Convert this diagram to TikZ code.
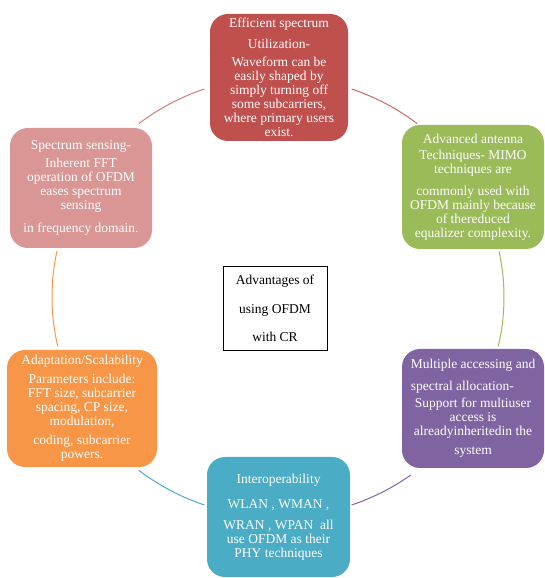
\documentclass[tikz,border=0pt]{standalone}
\usepackage{fontspec}
\setmainfont{Liberation Serif}
\usepackage{xcolor}
\usepackage{tikz}
\usetikzlibrary{calc}

\definecolor{effred}{HTML}{C0504D}
\definecolor{antgreen}{HTML}{9BBB59}
\definecolor{accpurple}{HTML}{8064A2}
\definecolor{intteal}{HTML}{4BACC6}
\definecolor{adaorange}{HTML}{F79646}
\definecolor{senpink}{HTML}{D99694}

\begin{document}
\begin{tikzpicture}[x=1pt,y=1pt,
		box/.style 2 args={rounded corners=18pt,minimum width=#1pt,minimum height=#2pt,inner sep=0pt,align=center,text=white,font=\fontsize{13.5}{14}\selectfont},
		ring/.style={line width=1pt}]
		\useasboundingbox (0,0) rectangle (544,578);
		\coordinate (c) at (278,281);
		% the six advantages round the cycle
		\node[box={138}{127},fill=effred] (eff) at (279,500.5) {Efficient spectrum\\[7pt]Utilization-\\[4pt]Waveform can be\\easily shaped by\\simply turning off\\some subcarriers,\\where primary users\\exist.};
		\node[box={142}{124},fill=antgreen] (ant) at (473,391) {Advanced antenna\\[2pt]Techniques- MIMO\\techniques are\\[8pt]commonly used with\\OFDM mainly because\\of thereduced\\equalizer complexity.};
		\node[box={142}{119},fill=accpurple] (acc) at (473,169.5) {\begin{tabular}[b]{@{}l@{}}Multiple accessing and\\[8pt]spectral allocation-\end{tabular}\\[3pt]Support for multiuser\\access is\\alreadyinheritedin the\\[5pt]system};
		\node[box={143}{120},fill=intteal] (int) at (278.5,61) {Interoperability\\[11pt]WLAN , WMAN ,\\[7pt]WRAN , WPAN\ \ all\\use OFDM as their\\PHY techniques};
		\node[box={150}{117},fill=adaorange] (ada) at (82,169.5) {Adaptation/Scalability\\[5pt]Parameters include:\\FFT size, subcarrier\\spacing, CP size,\\modulation,\\[5pt]coding, subcarrier\\powers.};
		\node[box={142}{120},fill=senpink] (sen) at (81,390) {Spectrum sensing-\\[4pt]Inherent FFT\\operation of OFDM\\eases spectrum\\sensing\\[9pt]in frequency domain.};
		% centre box
		\node[draw,line width=0.6pt,minimum width=104pt,minimum height=84pt,inner sep=0pt,align=center,font=\fontsize{13.5}{14}\selectfont] (adv) at (275,270) {Advantages of\\[15pt]using OFDM\\[14pt]with CR};
		% arcs between the boxes
		\draw[ring,effred!85] ($(c)+(71:226pt and 220pt)$) arc[start angle=71,end angle=52,x radius=226pt,y radius=220pt];
		\draw[ring,antgreen] ($(c)+(12:226pt and 220pt)$) arc[start angle=12,end angle=-13,x radius=226pt,y radius=220pt];
		\draw[ring,accpurple] ($(c)+(-54:226pt and 220pt)$) arc[start angle=-54,end angle=-71,x radius=226pt,y radius=220pt];
		\draw[ring,intteal] ($(c)+(-109:226pt and 220pt)$) arc[start angle=-109,end angle=-128,x radius=226pt,y radius=220pt];
		\draw[ring,adaorange] ($(c)+(193:226pt and 220pt)$) arc[start angle=193,end angle=168,x radius=226pt,y radius=220pt];
		\draw[ring,effred!75] ($(c)+(128:226pt and 220pt)$) arc[start angle=128,end angle=109,x radius=226pt,y radius=220pt];
\end{tikzpicture}
\end{document}
